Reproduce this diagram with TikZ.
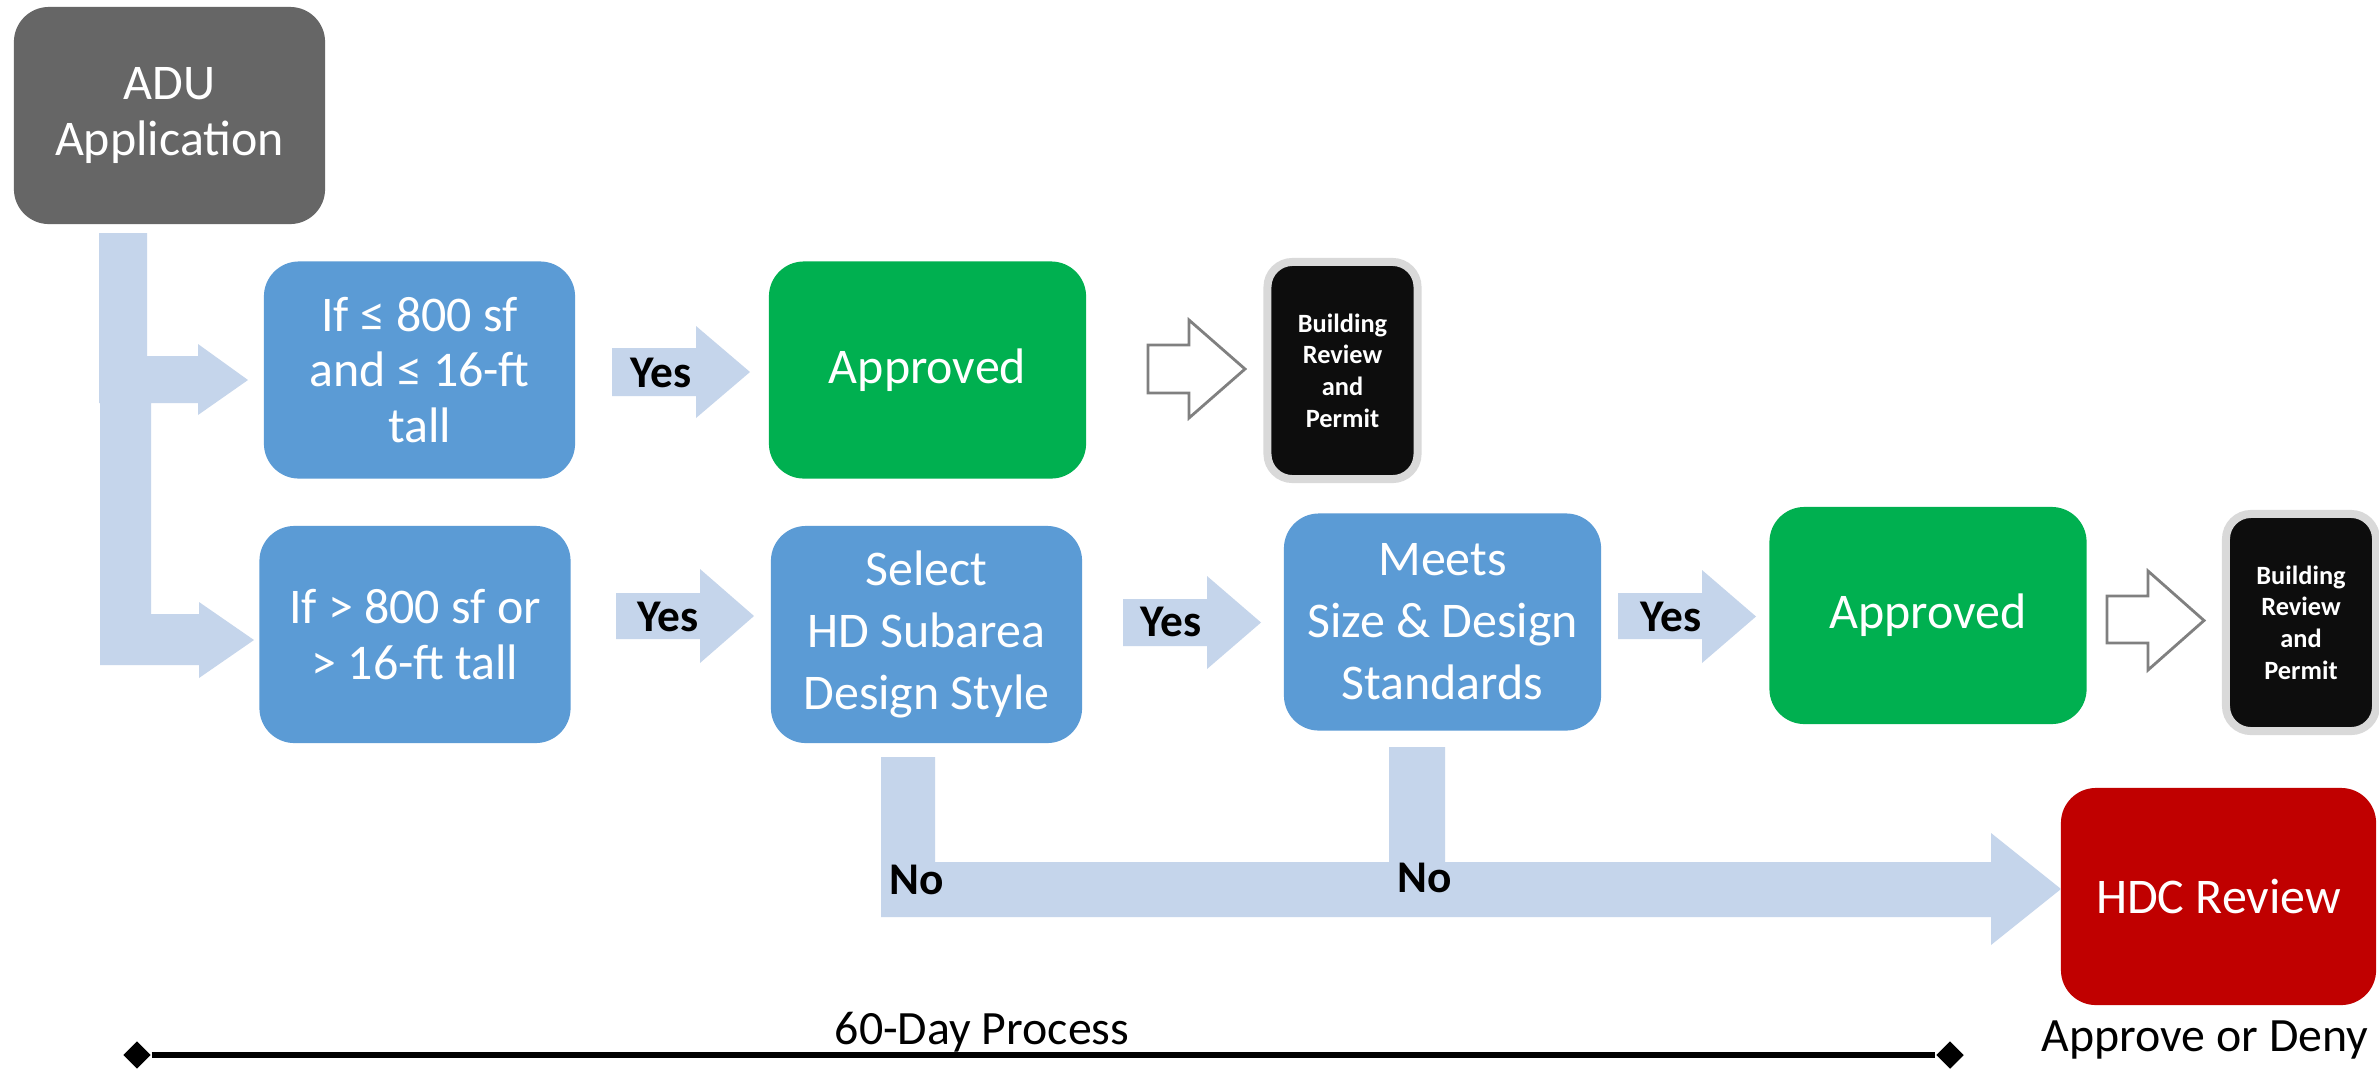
\documentclass[tikz,border=0pt]{standalone}
\usepackage{fontspec}
\setmainfont{Carlito}
\usetikzlibrary{shapes.geometric}
\definecolor{aduGray}{RGB}{102,102,102}
\definecolor{boxBlue}{RGB}{91,155,213}
\definecolor{okGreen}{RGB}{0,176,80}
\definecolor{hdcRed}{RGB}{192,0,0}
\definecolor{nearBlack}{RGB}{13,13,13}
\definecolor{rimGray}{RGB}{217,217,217}
\definecolor{flowBlue}{RGB}{197,213,235}
\definecolor{outlineGray}{RGB}{128,128,128}
\begin{document}
\begin{tikzpicture}[x=0.01cm,y=-0.01cm,
  box/.style={rectangle, rounded corners=0.35cm, align=center, text=white, inner sep=0pt,
    font=\fontsize{14.2}{15.9}\selectfont},
  wide/.style={minimum width=3.11cm, minimum height=2.17cm},
  widest/.style={minimum width=3.17cm, minimum height=2.17cm},
  roomy/.style={font=\fontsize{14.2}{17.6}\selectfont},
  permitbox/.style={rectangle, rounded corners=0.25cm, fill=nearBlack, draw=rimGray,
    line width=0.08cm, minimum width=1.50cm, minimum height=2.17cm, inner sep=0pt,
    align=center, text=white, font=\fontsize{7.5}{9}\selectfont\bfseries},
  flow/.style={fill=flowBlue},
  hollow/.style={fill=white, draw=outlineGray, line width=0.8pt},
  lbl/.style={inner sep=0pt, font=\fontsize{12.9}{15}\selectfont\bfseries, text=black},
  plain/.style={inner sep=0pt, font=\fontsize{13.6}{16}\selectfont, text=black},
  endmark/.style={diamond, fill=black, inner sep=0pt, minimum width=0.28cm, minimum height=0.28cm}
]
\useasboundingbox (0,0) rectangle (2379,1069);
\fill[white] (0,0) rectangle (2379,1069);

% ---- nodes
\node[box, fill=aduGray, minimum width=3.11cm, minimum height=2.17cm] (adu) at (169.5,115.5) {ADU\\Application};
\node[box, wide, fill=boxBlue] (small) at (419.5,370) {If ≤ 800 sf\\and ≤ 16-ft\\tall};
\node[box, wide, fill=boxBlue] (large) at (415,634.5) {If > 800 sf or\\> 16-ft tall};
\node[box, widest, fill=okGreen] (ok1) at (927.5,370) {Approved};
\node[box, wide, roomy, fill=boxBlue] (style) at (926.5,634.5) {Select\\HD Subarea\\Design Style};
\node[box, widest, roomy, fill=boxBlue] (meets) at (1442.5,622) {Meets\\Size \& Design\\Standards};
\node[box, widest, fill=okGreen] (ok2) at (1928,615.5) {Approved};
\node[permitbox] (permit1) at (1342.5,370.5) {Building\\Review\\and\\Permit};
\node[permitbox] (permit2) at (2301,622.5) {Building\\Review\\and\\Permit};
\node[box, minimum width=3.15cm, minimum height=2.17cm, fill=hdcRed] (hdc) at (2218.5,896.5) {HDC Review};

% ---- block connectors
\fill[flow] (99,233) -- (147,233) -- (147,356) -- (198,356) -- (198,344) -- (248,380)
  -- (198,415) -- (198,403) -- (151,403) -- (151,614) -- (199,614) -- (199,602)
  -- (254,640) -- (199,678) -- (199,665) -- (100,665) -- (100,403) -- (99,403) -- cycle;
\fill[flow] (612,348) -- (696,348) -- (696,326) -- (750,372) -- (696,418) -- (696,396) -- (612,396) -- cycle;
\fill[flow] (616,593) -- (700,593) -- (700,569) -- (754,616) -- (700,663) -- (700,639) -- (616,639) -- cycle;
\fill[flow] (1123,599) -- (1207,599) -- (1207,576) -- (1261,622.5) -- (1207,669) -- (1207,646) -- (1123,646) -- cycle;
\fill[flow] (1618,593) -- (1702,593) -- (1702,570) -- (1756,616.5) -- (1702,663) -- (1702,639) -- (1618,639) -- cycle;
\fill[flow] (881,757) -- (935,757) -- (935,862) -- (1389,862) -- (1389,747) -- (1445,747)
  -- (1445,862) -- (1991,862) -- (1991,833) -- (2061,889) -- (1991,945) -- (1991,917)
  -- (881,917) -- cycle;
\draw[hollow] (1148,345) -- (1189,345) -- (1189,320) -- (1245,369) -- (1189,418) -- (1189,393) -- (1148,393) -- cycle;
\draw[hollow] (2107,596) -- (2148,596) -- (2148,571) -- (2204,620.5) -- (2148,670) -- (2148,643) -- (2107,643) -- cycle;

% ---- labels
\node[lbl] (yes1) at (661,373) {Yes};
\node[lbl] (yes2) at (668,617) {Yes};
\node[lbl] (yes3) at (1171,622) {Yes};
\node[lbl] (yes4) at (1671,617) {Yes};
\node[lbl] (no1) at (917,880) {No};
\node[lbl] (no2) at (1425,878) {No};

% ---- timeline
\node[endmark] (t0) at (137,1055) {};
\node[endmark] (t1) at (1950,1055) {};
\draw[line width=1.7pt] (t0) -- (t1);
\node[plain] (days) at (982,1032) {60-Day Process};
\node[plain] (verdict) at (2205,1040) {Approve or Deny};
\end{tikzpicture}
\end{document}
